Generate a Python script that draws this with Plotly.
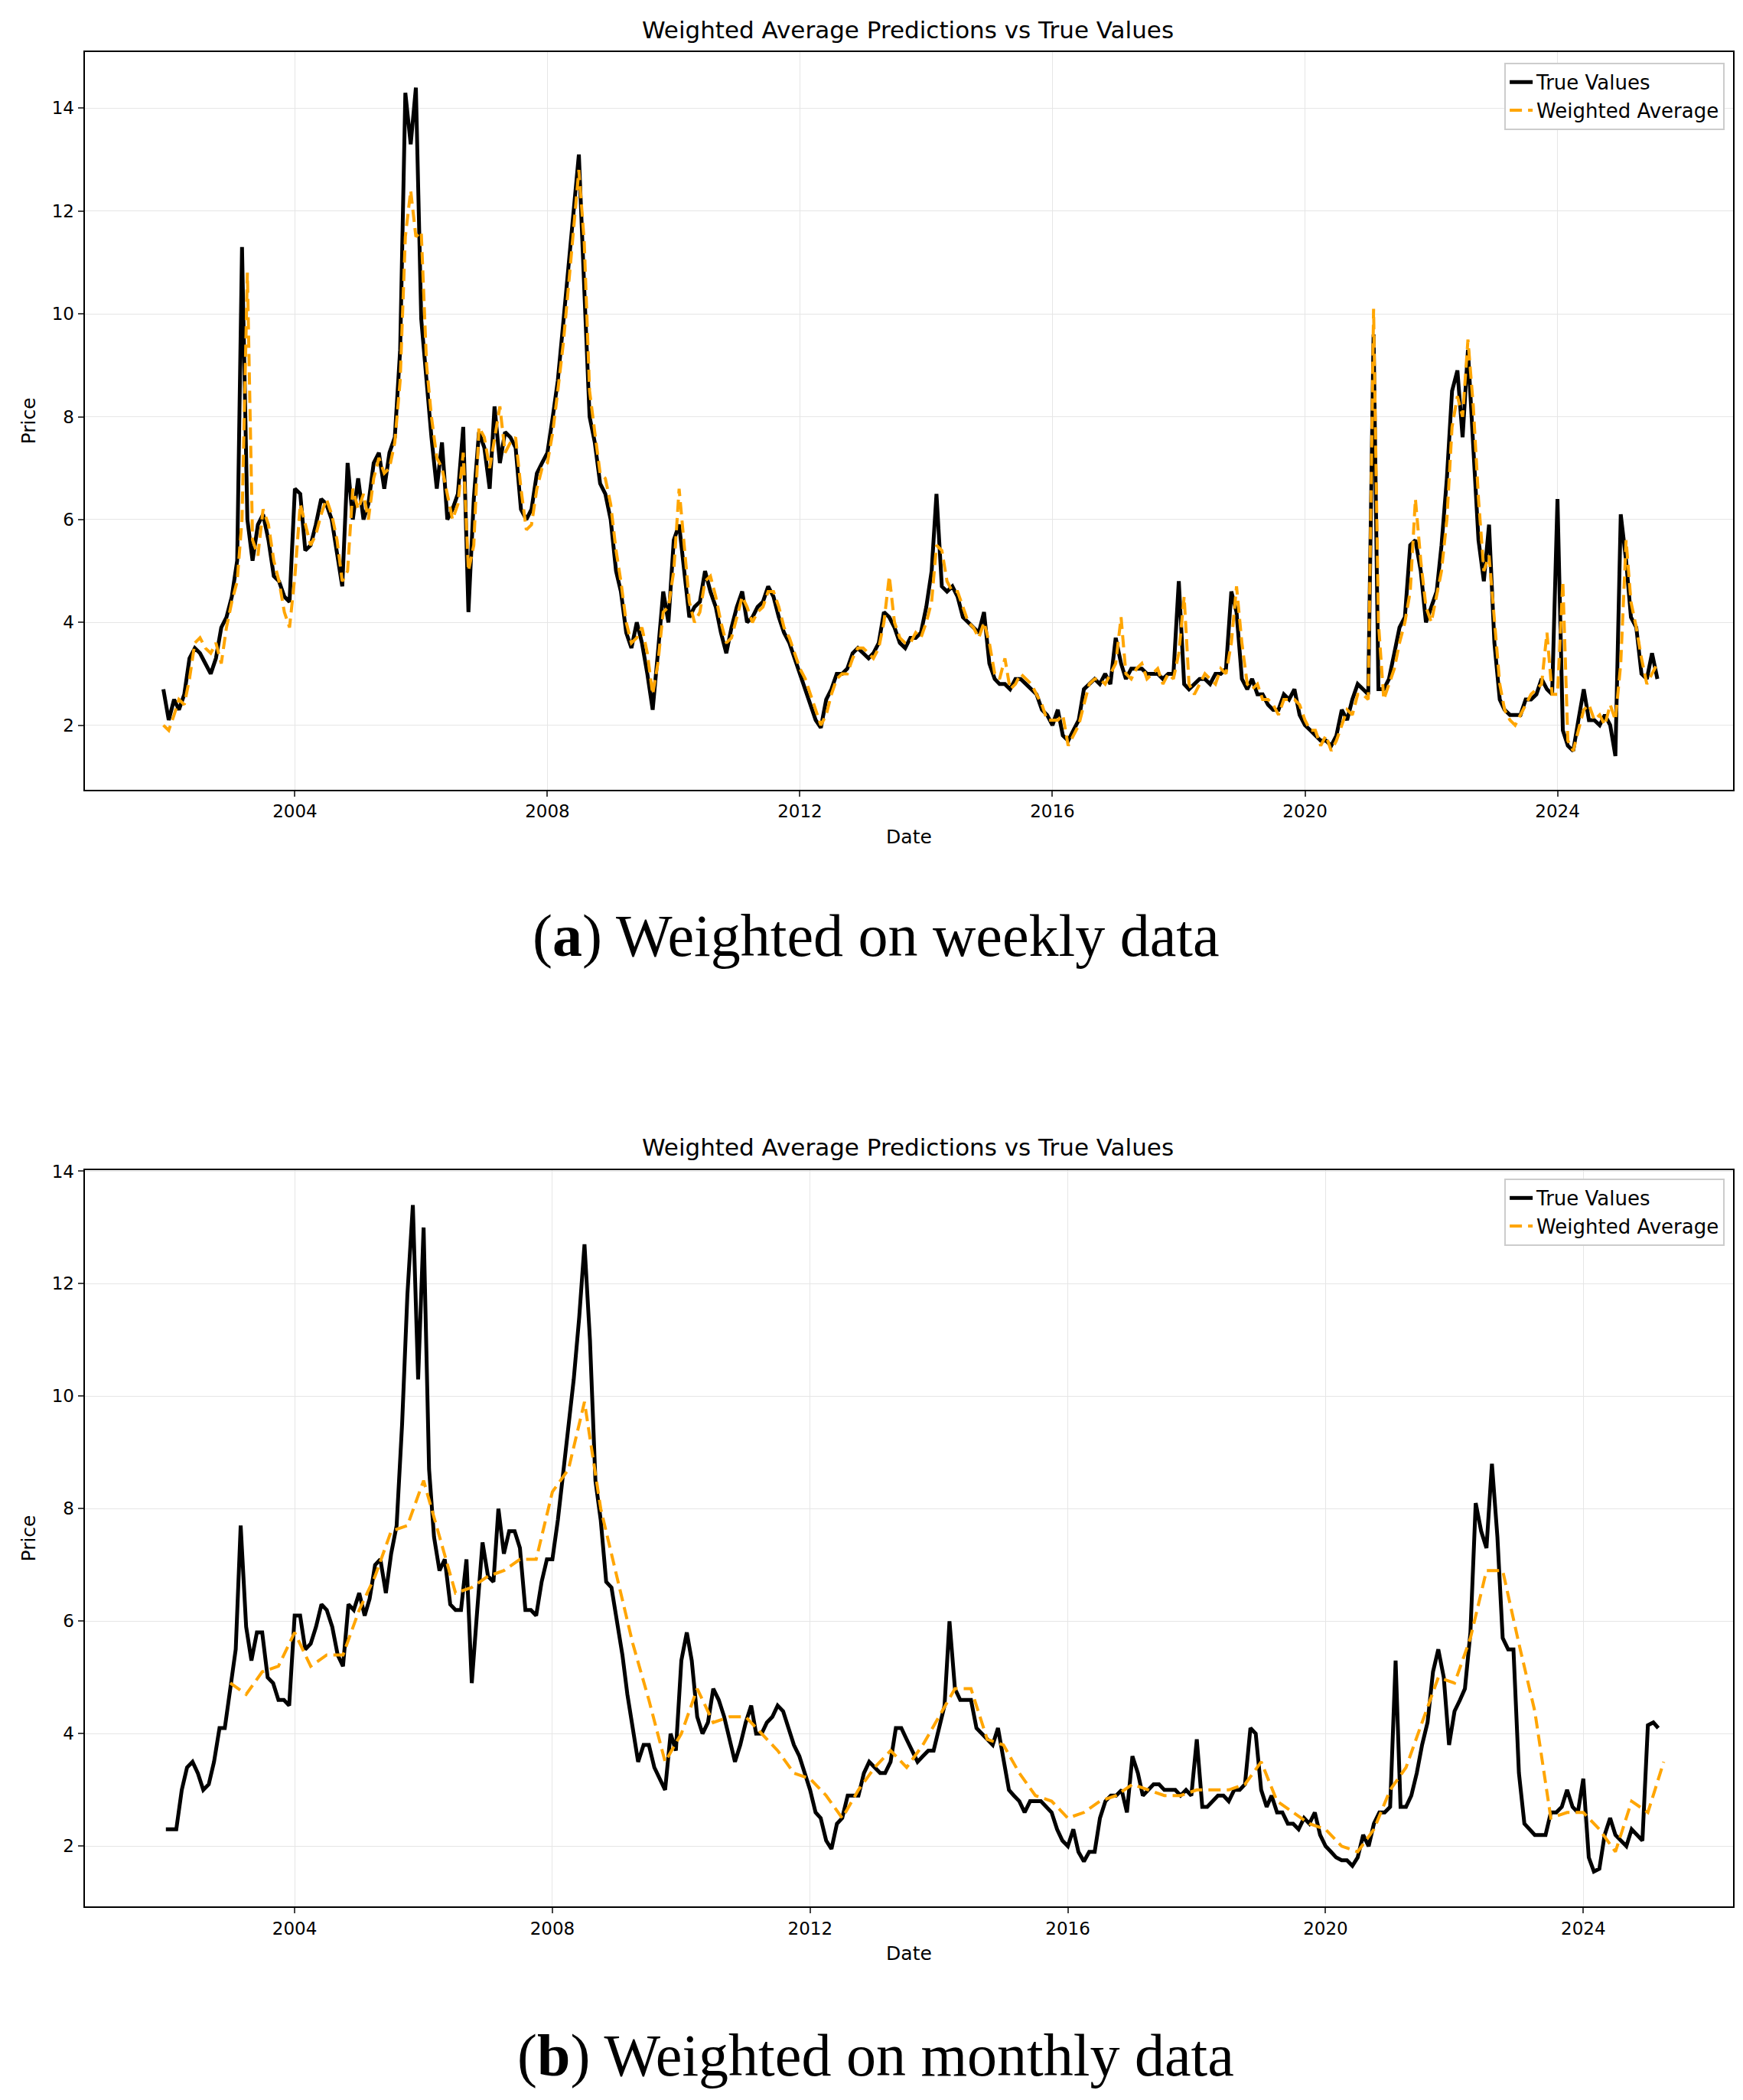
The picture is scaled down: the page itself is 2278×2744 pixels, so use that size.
import pandas as pd
import plotly.graph_objects as go

# ---- weekly panel (values read roughly once per month) ----
weekly_true = [
    2.7,
    2.1, 2.5, 2.3, 2.6, 3.3, 3.5, 3.4, 3.2, 3.0, 3.3, 3.9, 4.1,
    4.5, 5.2, 11.3, 6.0, 5.2, 5.9, 6.1, 5.6, 4.9, 4.8, 4.5, 4.4,
    6.6, 6.5, 5.4, 5.5, 5.9, 6.4, 6.3, 6.0, 5.3, 4.7, 7.1, 6.0,
    6.8, 6.0, 6.3, 7.1, 7.3, 6.6, 7.3, 7.6, 9.3, 14.3, 13.3, 14.4,
    9.9, 8.6, 7.6, 6.6, 7.5, 6.0, 6.2, 6.5, 7.8, 4.2, 6.4, 7.7,
    7.4, 6.6, 8.2, 7.1, 7.7, 7.6, 7.4, 6.2, 6.0, 6.2, 6.9, 7.1,
    7.3, 8.0, 8.7, 9.8, 10.9, 11.9, 13.1, 10.5, 8.0, 7.5, 6.7, 6.5,
    6.0, 5.0, 4.6, 3.8, 3.5, 4.0, 3.6, 3.0, 2.3, 3.4, 4.6, 4.0,
    5.6, 5.9, 5.0, 4.1, 4.3, 4.4, 5.0, 4.6, 4.3, 3.8, 3.4, 3.9,
    4.3, 4.6, 4.0, 4.1, 4.3, 4.4, 4.7, 4.5, 4.1, 3.8, 3.6, 3.3,
    3.0, 2.7, 2.4, 2.1, 1.95, 2.5, 2.7, 3.0, 3.0, 3.1, 3.4, 3.5,
    3.4, 3.3, 3.4, 3.6, 4.2, 4.1, 3.9, 3.6, 3.5, 3.7, 3.7, 3.8,
    4.3, 5.0, 6.5, 4.7, 4.6, 4.7, 4.5, 4.1, 4.0, 3.9, 3.8, 4.2,
    3.2, 2.9, 2.8, 2.8, 2.7, 2.9, 2.9, 2.8, 2.7, 2.6, 2.3, 2.2,
    2.0, 2.3, 1.8, 1.7, 1.9, 2.1, 2.7, 2.8, 2.9, 2.8, 3.0, 2.8,
    3.7, 3.2, 2.9, 3.1, 3.1, 3.1, 3.0, 3.0, 3.0, 2.9, 3.0, 3.0,
    4.8, 2.8, 2.7, 2.8, 2.9, 2.9, 2.8, 3.0, 3.0, 3.1, 4.6, 4.2,
    2.9, 2.7, 2.9, 2.6, 2.6, 2.4, 2.3, 2.3, 2.6, 2.5, 2.7, 2.2,
    2.0, 1.9, 1.8, 1.7, 1.7, 1.6, 1.8, 2.3, 2.1, 2.5, 2.8, 2.7,
    2.6, 9.6, 2.7, 2.7, 2.9, 3.4, 3.9, 4.1, 5.5, 5.6, 5.0, 4.0,
    4.3, 4.6, 5.5, 6.8, 8.5, 8.9, 7.6, 9.3, 7.4, 5.6, 4.8, 5.9,
    3.6, 2.5, 2.3, 2.2, 2.2, 2.2, 2.5, 2.5, 2.6, 2.9, 2.7, 2.6,
    6.4, 1.9, 1.6, 1.5, 2.1, 2.7, 2.1, 2.1, 2.0, 2.2, 2.0, 1.4,
    6.1, 5.2, 4.1, 3.9, 3.0, 2.9, 3.4, 2.9,
]
weekly_pred = [
    2.0,
    1.9, 2.2, 2.5, 2.4, 2.9, 3.6, 3.7, 3.5, 3.4, 3.6, 3.2, 3.9,
    4.4, 4.8, 6.0, 10.8, 5.6, 5.3, 6.2, 5.9, 5.2, 4.8, 4.2, 3.9,
    4.9, 6.3, 5.9, 5.5, 5.7, 6.1, 6.4, 6.1, 5.6, 4.8, 5.0, 6.6,
    6.2, 6.5, 6.0, 6.8, 7.2, 6.9, 7.0, 7.5, 8.7, 11.5, 12.4, 11.5,
    11.6, 9.0, 8.0, 7.2, 7.0, 6.5, 6.0, 6.3, 7.3, 5.0, 5.5, 7.8,
    7.6, 7.0, 7.6, 8.2, 7.3, 7.5, 7.6, 6.6, 5.8, 5.9, 6.6, 7.0,
    7.1, 7.7, 8.5, 9.4, 10.5, 11.6, 12.8, 11.4, 8.5, 7.7, 6.9, 6.8,
    6.3, 5.4, 4.8, 4.0, 3.6, 3.7, 3.9, 3.4, 2.6, 3.2, 4.2, 4.3,
    5.0, 6.6, 5.6, 4.4, 4.0, 4.2, 4.8, 4.9, 4.5, 4.0, 3.6, 3.7,
    4.1, 4.5, 4.3, 4.0, 4.2, 4.3, 4.6, 4.6, 4.3, 3.9, 3.7, 3.4,
    3.1, 2.9, 2.6, 2.3, 2.0, 2.2, 2.6, 2.9, 3.0, 3.0, 3.3, 3.5,
    3.5, 3.4, 3.3, 3.5, 4.0, 4.9, 4.0, 3.7, 3.6, 3.6, 3.8, 3.7,
    4.0, 4.4, 5.5, 5.4, 4.8, 4.6, 4.6, 4.3, 4.0, 3.9, 3.7, 4.0,
    3.6, 3.0, 2.9, 3.3, 2.7, 2.8, 3.0, 2.9, 2.8, 2.6, 2.4, 2.1,
    2.1, 2.1, 2.2, 1.6, 1.8, 2.0, 2.4, 2.8, 2.9, 2.9, 2.8, 3.0,
    3.2, 4.1, 3.0, 2.9, 3.1, 3.2, 2.9, 3.0, 3.1, 2.8, 3.0, 2.9,
    3.4, 4.5, 2.8, 2.6, 2.8, 3.0, 2.9, 2.8, 3.1, 3.0, 3.6, 4.7,
    3.6, 2.8, 2.7, 2.8, 2.5, 2.5, 2.4, 2.2, 2.5, 2.5, 2.5, 2.4,
    2.1, 1.9, 1.9, 1.6, 1.8, 1.5, 1.7, 2.0, 2.3, 2.2, 2.6, 2.6,
    2.5, 10.1, 4.0, 2.5, 2.8, 3.1, 3.6, 4.0, 4.6, 6.4, 5.2, 4.3,
    4.0, 4.5, 5.0, 6.0, 7.8, 8.4, 8.0, 9.5, 8.2, 6.4, 5.0, 5.3,
    4.0, 2.8, 2.3, 2.1, 2.0, 2.2, 2.4, 2.6, 2.7, 2.8, 3.8, 2.6,
    2.6, 4.8, 1.7, 1.5, 1.9, 2.3, 2.4, 2.1, 2.2, 2.0, 2.4, 2.1,
    3.2, 5.6, 4.4, 3.9, 3.3, 2.8, 3.0, 3.2,
]

# ---- monthly panel ----
monthly_true = [
    2.3, 2.3, 2.3, 3.0, 3.4, 3.5, 3.3, 3.0, 3.1, 3.5, 4.1, 4.1,
    4.8, 5.5, 7.7, 5.9, 5.3, 5.8, 5.8, 5.0, 4.9, 4.6, 4.6, 4.5,
    6.1, 6.1, 5.5, 5.6, 5.9, 6.3, 6.2, 5.9, 5.4, 5.2, 6.3, 6.2,
    6.5, 6.1, 6.4, 7.0, 7.1, 6.5, 7.2, 7.7, 9.5, 11.8, 13.4, 10.3,
    13.0, 8.7, 7.5, 6.9, 7.1, 6.3, 6.2, 6.2, 7.1, 4.9, 6.2, 7.4,
    6.8, 6.7, 8.0, 7.2, 7.6, 7.6, 7.3, 6.2, 6.2, 6.1, 6.7, 7.1,
    7.1, 7.8, 8.6, 9.5, 10.3, 11.4, 12.7, 11.0, 8.5, 7.8, 6.7, 6.6,
    6.0, 5.4, 4.7, 4.1, 3.5, 3.8, 3.8, 3.4, 3.2, 3.0, 4.0, 3.7,
    5.3, 5.8, 5.3, 4.3, 4.0, 4.2, 4.8, 4.6, 4.3, 3.9, 3.5, 3.8,
    4.2, 4.5, 4.0, 4.0, 4.2, 4.3, 4.5, 4.4, 4.1, 3.8, 3.6, 3.3,
    3.0, 2.6, 2.5, 2.1, 1.95, 2.4, 2.5, 2.9, 2.9, 2.9, 3.3, 3.5,
    3.4, 3.3, 3.3, 3.5, 4.1, 4.1, 3.9, 3.7, 3.5, 3.6, 3.7, 3.7,
    4.1, 4.5, 6.0, 4.8, 4.6, 4.6, 4.6, 4.1, 4.0, 3.9, 3.8, 4.1,
    3.5, 3.0, 2.9, 2.8, 2.6, 2.8, 2.8, 2.8, 2.7, 2.6, 2.3, 2.1,
    2.0, 2.3, 1.9, 1.73, 1.9, 1.9, 2.5, 2.8, 2.9, 2.9, 3.0, 2.6,
    3.6, 3.3, 2.9, 3.0, 3.1, 3.1, 3.0, 3.0, 3.0, 2.9, 3.0, 2.9,
    3.9, 2.7, 2.7, 2.8, 2.9, 2.9, 2.8, 3.0, 3.0, 3.1, 4.1, 4.0,
    3.0, 2.7, 2.9, 2.6, 2.6, 2.4, 2.4, 2.3, 2.5, 2.4, 2.6, 2.2,
    2.0, 1.9, 1.8, 1.75, 1.75, 1.65, 1.8, 2.2, 2.0, 2.4, 2.6, 2.6,
    2.7, 5.3, 2.7, 2.7, 2.9, 3.3, 3.8, 4.2, 5.1, 5.5, 5.0, 3.8,
    4.4, 4.6, 4.8, 5.8, 8.1, 7.6, 7.3, 8.8, 7.5, 5.7, 5.5, 5.5,
    3.3, 2.4, 2.3, 2.2, 2.2, 2.2, 2.6, 2.6, 2.7, 3.0, 2.7, 2.6,
    3.2, 1.8, 1.55, 1.6, 2.2, 2.5, 2.2, 2.1, 2.0, 2.3, 2.2, 2.1,
    4.15, 4.2, 4.1,
]
monthly_pred = [
    4.9, 4.7, 5.1, 5.2,
    5.8, 5.2, 5.4, 5.4,
    6.2, 6.8, 7.6, 7.7,
    8.5, 7.5, 6.5, 6.6,
    6.8, 6.9, 7.1, 7.1,
    8.3, 8.7, 9.9, 8.0,
    6.8, 5.6, 4.6, 3.5,
    4.0, 4.8, 4.2, 4.3,
    4.3, 4.0, 3.7, 3.3,
    3.2, 2.9, 2.5, 3.0,
    3.4, 3.7, 3.4, 3.8,
    4.3, 4.8, 4.8, 3.9,
    3.8, 3.3, 2.9, 2.8,
    2.5, 2.6, 2.8, 2.9,
    3.1, 3.0, 2.9, 2.9,
    3.0, 3.0, 3.0, 3.1,
    3.5, 2.8, 2.6, 2.4,
    2.3, 2.0, 1.9, 2.3,
    3.0, 3.4, 4.2, 5.0,
    4.9, 5.7, 6.9, 6.9,
    5.6, 4.4, 2.5, 2.6,
    2.6, 2.3, 1.9, 2.8,
    2.6, 3.5,
]

wk_dates = pd.date_range("2001-12-01", periods=len(weekly_true), freq="MS")
mo_dates = pd.date_range("2002-01-01", periods=len(monthly_true), freq="MS")
mp_dates = pd.date_range("2003-01-01", periods=len(monthly_pred), freq="QS")

W, H = 2278, 2744
font = "DejaVu Sans"
dash = "16px,8px"

fig = go.Figure()
fig.add_trace(go.Scatter(x=wk_dates, y=weekly_true, mode="lines", name="True Values",
                         line=dict(color="black", width=5), xaxis="x", yaxis="y"))
fig.add_trace(go.Scatter(x=wk_dates, y=weekly_pred, mode="lines", name="Weighted Average",
                         line=dict(color="orange", width=4, dash=dash), xaxis="x", yaxis="y"))
fig.add_trace(go.Scatter(x=mo_dates, y=monthly_true, mode="lines", name="True Values",
                         line=dict(color="black", width=5), xaxis="x2", yaxis="y2",
                         legend="legend2"))
fig.add_trace(go.Scatter(x=mp_dates, y=monthly_pred, mode="lines", name="Weighted Average",
                         line=dict(color="orange", width=4, dash=dash), xaxis="x2", yaxis="y2",
                         legend="legend2"))

ax = dict(showline=True, linecolor="black", linewidth=2, mirror=True, ticks="outside",
          ticklen=7, tickwidth=2, gridcolor="#e6e6e6", zeroline=False,
          tickfont=dict(size=23, color="black"))
xticks = [pd.Timestamp(f"{y}-01-01") for y in range(2004, 2025, 4)]
xlab = [str(y) for y in range(2004, 2025, 4)]

fig.update_layout(
    width=W, height=H, margin=dict(l=0, r=0, t=0, b=0),
    paper_bgcolor="white", plot_bgcolor="white",
    font=dict(family=font, color="black"),
    xaxis=dict(ax, domain=[0.045, 0.991], anchor="y", range=["2000-09-01", "2026-10-15"],
               tickvals=xticks, ticktext=xlab,
               title=dict(text="Date", font=dict(size=25), standoff=12)),
    yaxis=dict(ax, domain=[0.6295, 0.982], anchor="x", range=[0.75, 15.09],
               tickvals=list(range(2, 15, 2)),
               title=dict(text="Price", font=dict(size=25), standoff=14)),
    xaxis2=dict(ax, domain=[0.045, 0.991], anchor="y2", range=["2000-09-27", "2026-05-01"],
                tickvals=xticks, ticktext=xlab,
                title=dict(text="Date", font=dict(size=25), standoff=12)),
    yaxis2=dict(ax, domain=[0.0955, 0.4475], anchor="x2", range=[0.93, 14.02],
                tickvals=list(range(2, 15, 2)),
                title=dict(text="Price", font=dict(size=25), standoff=14)),
    legend=dict(x=0.986, y=0.977, xanchor="right", yanchor="top", bgcolor="white",
                bordercolor="#cccccc", borderwidth=2, font=dict(size=26)),
    legend2=dict(x=0.986, y=0.4435, xanchor="right", yanchor="top", bgcolor="white",
                 bordercolor="#cccccc", borderwidth=2, font=dict(size=26)),
)

ann = [
    (0.5175, 0.9925, "Weighted Average Predictions vs True Values", 31, font),
    (0.5175, 0.4585, "Weighted Average Predictions vs True Values", 31, font),
    (0.499, 0.5595, "(<b>a</b>) Weighted on weekly data", 78, "Liberation Serif"),
    (0.499, 0.0245, "(<b>b</b>) Weighted on monthly data", 78, "Liberation Serif"),
]
for x, y, t, s, f in ann:
    fig.add_annotation(x=x, y=y, xref="paper", yref="paper", text=t, showarrow=False,
                       yanchor="middle", font=dict(size=s, family=f, color="black"))

fig.write_html("out.html")
